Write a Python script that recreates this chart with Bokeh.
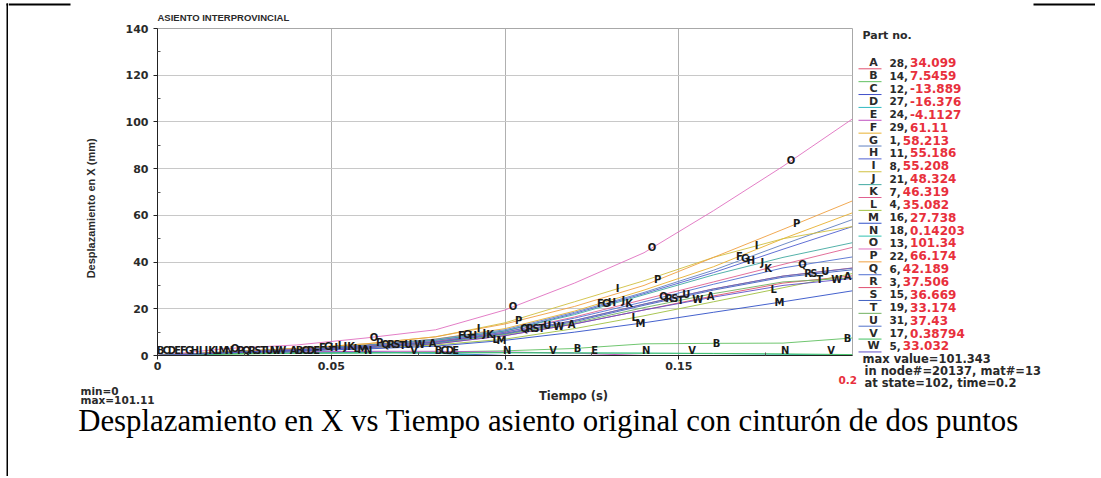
import numpy as np
from bokeh.plotting import figure
from bokeh.models import FixedTicker, ColumnDataSource, Range1d, LinearAxis
from bokeh.layouts import row, column
from bokeh.core.properties import value
from bokeh.embed import file_html
from bokeh.resources import INLINE

# ---------------- data ----------------
time_s = [0.0, 0.02, 0.04, 0.06, 0.08, 0.10, 0.12, 0.14, 0.16, 0.18, 0.20]

series_names = list("ABCDEFGHIJKLMNOPQRSTUVW")
part_no = [28, 14, 12, 27, 24, 29, 1, 11, 8, 21, 7, 4, 16, 18, 13, 22, 6, 3, 15, 19, 31, 17, 5]
final_val = ["34.099", "7.5459", "-13.889", "-16.376", "-4.1127", "61.11", "58.213", "55.186",
             "55.208", "48.324", "46.319", "35.082", "27.738", "0.14203", "101.34", "66.174",
             "42.189", "37.506", "36.669", "33.174", "37.43", "0.38794", "33.032"]

A = [0, 1.1, 2.2, 3.3, 5.0, 8.5, 13.5, 19.5, 25.5, 31.0, 34.1]
B = [0, 0.5, 1.0, 1.2, 1.5, 2.0, 3.0, 5.0, 5.2, 5.3, 7.5]
C = [0, 1.0, 1.5, 1.5, 1.0, 0.0, -2.0, -5.0, -8.0, -11.0, -13.9]
D = [0, 1.0, 1.5, 1.5, 1.0, -0.5, -3.0, -6.0, -9.5, -13.0, -16.4]
E = [0, 1.0, 1.5, 1.8, 1.8, 1.5, 1.0, 0.0, -1.5, -3.0, -4.1]
F = [0, 1.5, 3.0, 4.5, 7.0, 11.5, 19.0, 28.0, 38.0, 50.0, 61.1]
G = [0, 1.5, 3.0, 4.5, 7.0, 11.0, 18.5, 27.0, 36.5, 47.5, 58.2]
H = [0, 1.5, 2.8, 4.3, 6.5, 10.5, 18.0, 26.5, 35.5, 45.5, 55.2]
I = [0, 1.5, 3.0, 5.0, 8.0, 14.0, 23.0, 32.0, 42.0, 50.0, 55.2]
J = [0, 1.5, 2.8, 4.2, 6.5, 10.5, 17.5, 26.0, 34.5, 42.0, 48.3]
K = [0, 1.3, 2.5, 4.0, 6.0, 10.0, 16.5, 24.0, 31.5, 39.0, 46.3]
L = [0, 1.0, 2.0, 3.0, 4.5, 7.0, 11.5, 17.0, 23.0, 29.0, 35.1]
M = [0, 1.0, 2.0, 2.8, 4.0, 6.5, 10.0, 14.0, 18.5, 23.0, 27.7]
N = [0, 0.8, 1.0, 1.1, 1.2, 1.2, 1.1, 1.0, 0.8, 0.5, 0.14]
O = [0, 3.0, 4.5, 7.5, 11.0, 19.5, 31.0, 44.0, 62.0, 81.0, 101.3]
P = [0, 1.5, 3.0, 5.0, 8.0, 13.5, 21.0, 30.0, 42.0, 54.0, 66.2]
Q = [0, 1.3, 2.5, 4.0, 6.0, 10.0, 16.0, 23.0, 30.5, 37.5, 42.2]
R = [0, 1.3, 2.5, 3.8, 5.8, 9.5, 15.0, 22.0, 28.5, 34.0, 37.5]
S = [0, 1.2, 2.4, 3.7, 5.6, 9.2, 14.5, 21.5, 28.0, 33.5, 36.7]
T = [0, 1.2, 2.3, 3.5, 5.3, 9.0, 14.0, 20.5, 26.5, 31.5, 33.2]
U = [0, 1.2, 2.4, 3.7, 5.6, 9.5, 15.0, 22.0, 28.5, 34.0, 37.4]
V = [0, 0.8, 1.0, 1.1, 1.2, 1.2, 1.1, 1.0, 0.9, 0.7, 0.39]
W = [0, 1.1, 2.2, 3.3, 5.0, 8.5, 13.5, 19.5, 25.0, 30.0, 33.0]

series_values = [A, B, C, D, E, F, G, H, I, J, K, L, M, N, O, P, Q, R, S, T, U, V, W]

x_ticks = [0, 0.05, 0.1, 0.15]
y_ticks = [0, 20, 40, 60, 80, 100, 120, 140]

colors = ["#e0506e", "#60c060", "#4050c8", "#30b8c0", "#c050c0", "#e8b030", "#6080c0",
          "#5060d0", "#d0c040", "#40a8a0", "#e06090", "#a0c040", "#3050c8", "#30c0b0",
          "#e070c0", "#f0a040", "#5070d0", "#e05070", "#4060c0", "#70b060", "#5070c8",
          "#40c060", "#6050c8"]

FONT = "DejaVu Sans"
TXT = "#2a2a2a"
RED = "#e8303c"


# ---------------- helpers ----------------
def canvas(w, h):
    f = figure(width=w, height=h, x_range=Range1d(0, w), y_range=Range1d(h, 0),
               min_border=0, x_axis_type=None, y_axis_type=None, toolbar_location=None,
               output_backend="svg", outline_line_color=None)
    f.background_fill_color = "white"
    f.border_fill_color = "white"
    return f


def put(f, x0, y0, px, py, text, size="11px", color=TXT, style="bold", align="left",
        font=FONT, baseline="middle"):
    f.text(x=[px - x0], y=[py - y0], text=[text], text_font=value(font), text_font_size=size,
           text_font_style=style, text_color=color, text_align=align, text_baseline=baseline)


# ---------------- main plot (page x 8..857, y 22..375) ----------------
MX0, MY0, MW, MH = 8, 22, 849, 353
FL, FT, FR, FB = 157, 28, 852, 355
p = figure(width=MW, height=MH, output_backend="svg", toolbar_location=None,
           x_range=Range1d(0, 0.2), y_range=Range1d(0, 140),
           min_border_left=FL - MX0, min_border_right=MX0 + MW - FR, min_border_top=FT - MY0,
           min_border_bottom=MY0 + MH - FB, title=None)
p.background_fill_color = "white"
p.border_fill_color = "white"
p.outline_line_color = "#a8a8a8"

for ax in (p.xaxis[0], p.yaxis[0]):
    ax.axis_line_color = "#222222"
    ax.major_tick_line_color = "#222222"
    ax.minor_tick_line_color = "#555555"
    ax.major_label_text_font = FONT
    ax.major_label_text_font_size = "11px"
    ax.major_label_text_font_style = "bold"
    ax.major_label_text_color = TXT
    ax.major_tick_out = 4
    ax.major_tick_in = 0
    ax.minor_tick_in = 3
    ax.minor_tick_out = 0
p.xaxis.major_label_standoff = 2
p.yaxis.major_label_standoff = 5

p.xaxis.ticker = FixedTicker(ticks=x_ticks, minor_ticks=[0.025, 0.075, 0.125, 0.175])
p.yaxis.ticker = FixedTicker(ticks=y_ticks, minor_ticks=[10, 30, 50, 70, 90, 110, 130])
p.xgrid.ticker = FixedTicker(ticks=x_ticks)
p.ygrid.ticker = FixedTicker(ticks=y_ticks)
p.xgrid.grid_line_color = "#b0b0b0"
p.ygrid.grid_line_color = "#c8c8c8"

# y axis title, placed as a single-tick axis so it sits where the original has it
ylab_axis = LinearAxis(ticker=FixedTicker(ticks=[63]),
                       major_label_overrides={63: "Desplazamiento en X (mm)"},
                       major_label_orientation="vertical", axis_line_color=None,
                       major_tick_line_color=None, minor_tick_line_color=None,
                       major_label_standoff=19, major_label_text_font="Liberation Sans",
                       major_label_text_font_size="11px", major_label_text_font_style="bold",
                       major_label_text_color=TXT)
p.add_layout(ylab_axis, "left")

# curves + letter markers
lab_x, lab_y, lab_t = [], [], []
for i, (name, vals, col) in enumerate(zip(series_names, series_values, colors)):
    p.line(time_s, vals, line_color=col, line_width=1.0, line_alpha=0.9)
    for k in range(6):
        t = 0.00165 * i - 0.0008 + 0.04 * k
        if 0 <= t <= 0.2015:
            t = min(t, 0.1986)
            v = float(np.interp(t, time_s, vals))
            if v >= 0:
                lab_x.append(t)
                lab_y.append(max(v, 2.3))
                lab_t.append(name)
src = ColumnDataSource(dict(x=lab_x, y=lab_y, t=lab_t))
p.text(x="x", y="y", text="t", source=src, text_align="center", text_baseline="middle",
       text_font=value(FONT), text_font_size="10px", text_font_style="bold", text_color="#1a1a1a")

# ---------------- below-plot strip (page x 8..857, y 375..405) ----------------
BX0, BY0 = 8, 375
bl = canvas(849, 30)
put(bl, BX0, BY0, 80, 390, "min=0", size="10.5px")
put(bl, BX0, BY0, 80, 399, "max=101.11", size="10.5px")
put(bl, BX0, BY0, 573, 395, "Tiempo (s)", size="11.5px", align="center")
put(bl, BX0, BY0, 856.5, 379, "0.2", size="10.5px", color=RED, align="right")

# ---------------- legend strip (page x 857..1095, y 22..405) ----------------
LX0, LY0 = 857, 22
lg = canvas(238, 383)
put(lg, LX0, LY0, 862, 35, "Part no.", size="11px")
for i, name in enumerate(series_names):
    yy = 62.3 + 12.87 * i
    put(lg, LX0, LY0, 873, yy, name, size="11px", align="center")
    put(lg, LX0, LY0, 889, yy, str(part_no[i]) + ",", size="10.5px")
    put(lg, LX0, LY0, 889 + 7.3 * len(str(part_no[i])) + 6, yy, final_val[i], size="12px", color=RED)
    lg.segment(x0=[858 - LX0], y0=[yy + 6 - LY0], x1=[881 - LX0], y1=[yy + 6 - LY0],
               line_color=colors[i], line_width=1)
put(lg, LX0, LY0, 862, 358, "max value=101.343", size="11.5px")
put(lg, LX0, LY0, 864, 370, "in node#=20137, mat#=13", size="11.5px")
put(lg, LX0, LY0, 864, 382, "at state=102, time=0.2", size="11.5px")

# ---------------- top strip (page x 8..1095, y 0..22) ----------------
TX0, TY0 = 8, 0
top = canvas(1087, 22)
put(top, TX0, TY0, 157, 17, "ASIENTO INTERPROVINCIAL", size="9.5px", font="Liberation Sans")
top.segment(x0=[0, 1033 - TX0], y0=[4, 4], x1=[70 - TX0, 1087], y1=[4, 4],
            line_color="black", line_width=2)

# ---------------- left strip (page x 0..8) ----------------
left = canvas(8, 476)
left.segment(x0=[7], y0=[3], x1=[7], y1=[476], line_color="black", line_width=2)
left.segment(x0=[6], y0=[4], x1=[8], y1=[4], line_color="black", line_width=2)

# ---------------- caption strip (page x 8..1095, y 405..476) ----------------
CX0, CY0 = 8, 405
cap = canvas(1087, 71)
put(cap, CX0, CY0, 548, 420, "Desplazamiento en X vs Tiempo asiento original con cinturón de dos puntos",
    size="30.8px", color="#000000", style="normal", align="center", font="Liberation Serif")

layout = row(left, column(top, row(column(row(p), row(bl)), lg), cap))

open("out.html", "w").write(file_html(layout, INLINE))
